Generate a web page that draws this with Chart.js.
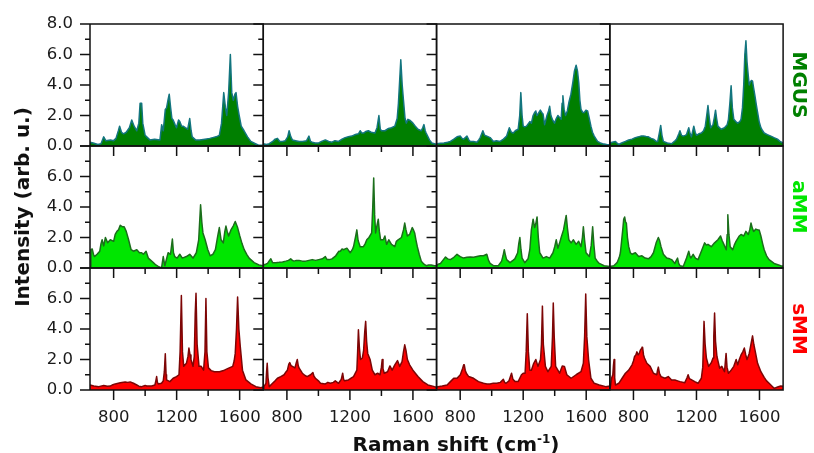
<!DOCTYPE html>
<html>
<head>
<meta charset="utf-8">
<script src="https://cdn.jsdelivr.net/npm/chart.js@4.4.1/dist/chart.umd.min.js"></script>
<style>
  html, body { margin: 0; padding: 0; background: #ffffff; }
  #wrap { width: 814px; height: 453px; }
</style>
</head>
<body>
<div id="wrap"><canvas id="c" width="814" height="453"></canvas></div>
<script>
// ---------------- DATA (Raman shift cm-1, intensity arb. u.) ----------------
const GROUPS = ['MGUS', 'aMM', 'sMM'];
const X_MIN = 650, X_MAX = 1750;
const X_LABEL_TICKS = [800, 1200, 1600];
const X_MINOR_TICKS = [1000, 1400];
const Y_MIN = 0, Y_MAX = 8;
const Y_LABEL_TICKS = [0, 2, 4, 6, 8];
const Y_MINOR_TICKS = [1, 3, 5, 7];

const MGUS_1 = [[650,0.25],[670,0.2],[700,0.1],[720,0.15],[737,0.6],[750,0.35],[780,0.4],[800,0.35],[815,0.5],[830,1.0],[838,1.3],[850,0.9],[863,0.8],[880,0.9],[900,1.2],[915,1.7],[930,1.3],[947,1.0],[960,1.5],[968,2.8],[978,2.8],[985,1.5],[1000,0.7],[1010,0.6],[1030,0.4],[1060,0.45],[1094,0.4],[1105,1.4],[1115,1.0],[1128,2.4],[1136,2.5],[1145,3.0],[1153,3.4],[1162,2.5],[1170,1.8],[1178,1.7],[1190,1.4],[1199,1.2],[1212,1.7],[1220,1.6],[1232,1.3],[1241,1.3],[1255,1.2],[1270,1.1],[1283,1.8],[1292,1.0],[1299,0.6],[1320,0.4],[1346,0.4],[1380,0.45],[1410,0.5],[1429,0.55],[1450,0.6],[1471,0.7],[1485,1.5],[1499,3.5],[1510,2.5],[1518,2.0],[1530,3.5],[1541,6.0],[1550,3.5],[1560,3.0],[1570,3.4],[1577,3.5],[1587,2.6],[1597,2.0],[1610,1.3],[1628,1.0],[1639,0.8],[1650,0.6],[1671,0.3],[1700,0.15],[1720,0.05],[1750,0.05]];
const MGUS_2 = [[650,0.15],[670,0.1],[688,0.15],[710,0.3],[725,0.45],[740,0.5],[755,0.3],[772,0.3],[790,0.35],[805,0.6],[814,1.0],[825,0.6],[835,0.4],[855,0.35],[877,0.3],[900,0.3],[925,0.35],[940,0.65],[950,0.3],[961,0.25],[980,0.2],[1002,0.2],[1020,0.3],[1044,0.4],[1065,0.3],[1086,0.25],[1105,0.35],[1128,0.3],[1150,0.45],[1170,0.55],[1190,0.6],[1212,0.65],[1235,0.75],[1254,0.8],[1265,1.0],[1275,0.85],[1286,0.85],[1300,0.95],[1317,1.0],[1335,0.9],[1359,0.85],[1372,1.2],[1384,2.0],[1393,1.1],[1401,1.0],[1422,1.0],[1445,1.15],[1464,1.2],[1485,1.3],[1500,1.8],[1508,2.8],[1523,5.65],[1532,4.0],[1540,3.0],[1550,1.8],[1558,1.5],[1568,1.75],[1579,1.7],[1590,1.6],[1600,1.5],[1615,1.3],[1632,1.1],[1653,1.0],[1662,1.2],[1670,1.4],[1678,1.0],[1684,0.85],[1705,0.4],[1720,0.2],[1737,0.15],[1750,0.1]];
const MGUS_3 = [[650,0.15],[675,0.18],[697,0.2],[720,0.25],[738,0.3],[760,0.45],[780,0.6],[801,0.65],[812,0.5],[822,0.45],[843,0.65],[855,0.4],[864,0.3],[885,0.3],[906,0.25],[918,0.4],[927,0.55],[944,1.0],[955,0.7],[969,0.65],[990,0.55],[1011,0.3],[1030,0.35],[1053,0.3],[1075,0.45],[1095,0.65],[1112,1.2],[1125,0.9],[1137,0.85],[1150,1.0],[1168,1.1],[1178,2.0],[1185,3.5],[1193,2.0],[1200,1.3],[1210,1.25],[1221,1.3],[1242,1.6],[1252,1.5],[1263,2.0],[1273,2.2],[1280,2.3],[1287,2.0],[1294,2.1],[1309,2.35],[1318,2.2],[1326,2.1],[1336,1.4],[1351,2.0],[1361,2.3],[1368,2.6],[1376,2.0],[1385,1.75],[1399,1.5],[1410,1.8],[1420,2.0],[1441,1.75],[1447,2.8],[1452,3.3],[1460,2.4],[1469,2.0],[1480,2.3],[1490,2.85],[1503,3.4],[1515,4.15],[1525,4.9],[1536,5.3],[1545,4.9],[1553,4.15],[1560,3.0],[1567,2.4],[1578,2.2],[1588,2.2],[1598,2.35],[1609,2.3],[1620,1.8],[1630,1.3],[1640,0.9],[1651,0.65],[1672,0.3],[1690,0.2],[1704,0.15],[1730,0.1],[1750,0.08]];
const MGUS_4 = [[650,0.2],[665,0.25],[686,0.3],[700,0.15],[707,0.1],[725,0.2],[749,0.3],[770,0.4],[791,0.45],[812,0.55],[833,0.6],[850,0.65],[864,0.65],[880,0.62],[895,0.6],[912,0.5],[927,0.45],[945,0.3],[954,0.3],[965,0.9],[973,1.35],[981,0.7],[990,0.3],[1015,0.2],[1042,0.15],[1060,0.3],[1074,0.45],[1088,0.8],[1095,1.0],[1105,0.7],[1116,0.65],[1128,0.7],[1137,0.75],[1151,1.2],[1160,0.8],[1168,0.6],[1183,1.3],[1192,0.9],[1200,0.7],[1215,0.8],[1231,0.85],[1245,1.0],[1256,1.3],[1265,2.0],[1273,2.65],[1282,1.8],[1290,1.2],[1305,1.4],[1314,1.9],[1321,2.35],[1328,1.8],[1336,1.3],[1357,1.1],[1378,1.2],[1395,1.4],[1403,1.75],[1412,2.8],[1420,3.95],[1428,2.5],[1437,1.75],[1450,1.6],[1462,1.5],[1475,1.6],[1483,1.75],[1492,2.5],[1500,4.0],[1507,6.0],[1514,6.9],[1521,5.5],[1529,4.6],[1535,4.0],[1542,4.2],[1549,4.3],[1556,4.25],[1563,3.8],[1571,3.3],[1580,2.7],[1588,2.2],[1598,1.6],[1609,1.2],[1620,1.0],[1630,0.85],[1650,0.75],[1672,0.65],[1692,0.55],[1714,0.45],[1730,0.3],[1750,0.2]];

const AMM_1 = [[650,0.1],[656,1.2],[664,1.25],[672,0.9],[678,0.75],[695,0.9],[712,1.1],[720,1.6],[727,1.85],[737,1.45],[748,2.0],[762,1.65],[779,1.85],[800,1.75],[810,2.2],[821,2.4],[831,2.5],[842,2.8],[857,2.7],[867,2.7],[880,2.4],[895,1.85],[911,1.2],[926,1.1],[947,1.2],[964,1.0],[978,1.0],[989,0.9],[1006,1.1],[1020,0.65],[1036,0.5],[1052,0.35],[1068,0.2],[1083,0.1],[1104,0.0],[1115,0.75],[1125,0.15],[1146,1.0],[1161,0.9],[1173,1.9],[1180,1.0],[1188,0.75],[1203,0.65],[1220,0.9],[1236,0.65],[1262,0.75],[1283,0.9],[1304,0.65],[1325,1.0],[1340,1.85],[1352,4.15],[1360,3.0],[1367,2.3],[1381,1.85],[1398,1.2],[1413,0.8],[1430,0.9],[1446,1.2],[1461,2.1],[1471,2.65],[1482,1.85],[1496,1.65],[1506,2.4],[1513,2.75],[1521,2.4],[1530,2.1],[1545,2.5],[1559,2.75],[1572,3.05],[1587,2.65],[1601,2.1],[1615,1.6],[1629,1.2],[1645,0.9],[1660,0.65],[1692,0.35],[1723,0.2],[1750,0.15]];
const AMM_2 = [[650,0.2],[665,0.25],[677,0.3],[690,0.5],[698,0.6],[709,0.35],[730,0.35],[751,0.37],[772,0.4],[793,0.45],[810,0.5],[824,0.6],[835,0.5],[845,0.45],[860,0.5],[877,0.5],[898,0.45],[919,0.45],[940,0.5],[961,0.55],[982,0.5],[1002,0.55],[1025,0.6],[1044,0.75],[1055,0.55],[1070,0.55],[1086,0.6],[1110,0.8],[1130,1.1],[1139,1.1],[1150,1.25],[1160,1.2],[1170,1.25],[1181,1.3],[1202,1.0],[1215,1.2],[1223,1.4],[1235,2.0],[1244,2.5],[1252,1.8],[1265,1.4],[1286,1.4],[1297,1.6],[1307,1.85],[1321,2.0],[1338,2.3],[1345,4.0],[1351,5.9],[1357,3.5],[1363,2.3],[1372,2.8],[1380,3.2],[1387,2.4],[1395,1.85],[1412,1.85],[1422,2.1],[1433,1.55],[1447,1.85],[1464,1.55],[1485,1.4],[1495,1.75],[1506,1.85],[1527,2.0],[1540,2.5],[1548,2.95],[1556,2.5],[1565,2.1],[1579,2.2],[1596,2.65],[1603,2.5],[1611,2.3],[1620,1.8],[1628,1.4],[1640,0.9],[1653,0.45],[1670,0.25],[1684,0.15],[1700,0.2],[1716,0.2],[1737,0.15],[1750,0.15]];
const AMM_3 = [[650,0.15],[660,0.25],[675,0.3],[690,0.5],[707,0.72],[720,0.6],[738,0.55],[760,0.7],[780,0.9],[800,0.75],[822,0.65],[843,0.7],[864,0.72],[885,0.7],[906,0.75],[928,0.8],[948,0.8],[969,0.9],[980,0.5],[990,0.3],[1011,0.15],[1042,0.15],[1063,0.45],[1072,0.8],[1080,1.2],[1088,0.8],[1095,0.55],[1116,0.35],[1135,0.5],[1147,0.6],[1165,1.0],[1172,1.6],[1179,2.0],[1186,1.2],[1193,0.65],[1210,0.35],[1231,0.6],[1242,1.2],[1252,2.5],[1263,3.2],[1273,2.65],[1280,2.9],[1288,3.35],[1296,2.0],[1305,1.0],[1326,0.65],[1347,0.75],[1368,0.65],[1389,1.0],[1400,1.4],[1410,1.85],[1420,1.3],[1430,1.6],[1441,2.0],[1456,2.5],[1465,3.0],[1473,3.45],[1481,2.6],[1490,1.85],[1504,1.65],[1519,1.85],[1536,1.55],[1552,1.75],[1567,1.4],[1576,2.0],[1582,2.7],[1590,1.8],[1599,1.0],[1620,0.75],[1632,1.5],[1641,2.7],[1649,1.5],[1657,0.65],[1670,0.45],[1683,0.3],[1714,0.15],[1750,0.1]];
const AMM_4 = [[650,0.1],[675,0.15],[696,0.35],[710,0.7],[717,1.0],[725,1.8],[732,2.5],[738,3.2],[744,3.35],[750,3.0],[755,2.95],[762,2.0],[770,1.4],[780,1.0],[791,0.9],[812,1.0],[833,0.75],[854,0.8],[874,0.65],[895,0.6],[912,0.75],[927,1.0],[944,1.65],[958,2.0],[966,1.8],[975,1.4],[990,0.9],[1011,0.65],[1030,0.6],[1042,0.55],[1063,0.3],[1072,0.5],[1080,0.65],[1087,0.3],[1095,0.15],[1116,0.1],[1137,0.65],[1151,1.1],[1158,0.8],[1164,0.65],[1179,0.9],[1193,0.65],[1210,0.55],[1231,1.1],[1252,1.65],[1263,1.5],[1273,1.55],[1294,1.4],[1315,1.65],[1336,1.85],[1353,2.1],[1363,1.8],[1374,1.55],[1389,1.2],[1395,2.2],[1399,3.5],[1406,2.2],[1414,1.4],[1430,1.2],[1440,1.5],[1451,1.75],[1472,2.1],[1483,2.2],[1500,2.1],[1514,2.4],[1529,2.2],[1538,2.5],[1546,2.95],[1555,2.6],[1563,2.4],[1577,2.55],[1590,2.5],[1598,2.5],[1609,2.1],[1620,1.6],[1630,1.2],[1645,0.8],[1661,0.55],[1693,0.3],[1735,0.15],[1750,0.12]];

const SMM_1 = [[650,0.33],[674,0.26],[706,0.22],[737,0.3],[760,0.25],[779,0.26],[795,0.35],[810,0.4],[842,0.48],[873,0.53],[890,0.5],[905,0.53],[926,0.44],[947,0.33],[960,0.25],[978,0.22],[1000,0.3],[1010,0.26],[1041,0.26],[1062,0.33],[1068,0.6],[1073,0.88],[1078,0.5],[1083,0.4],[1104,0.44],[1115,0.6],[1122,1.2],[1128,2.37],[1133,1.0],[1136,0.66],[1157,0.55],[1178,0.77],[1199,0.88],[1215,1.0],[1222,2.5],[1230,6.2],[1237,2.5],[1245,1.55],[1262,1.75],[1272,2.2],[1278,2.75],[1285,2.3],[1291,2.0],[1304,1.55],[1312,2.2],[1318,5.0],[1323,6.35],[1330,3.0],[1342,1.55],[1356,1.55],[1371,1.3],[1380,2.5],[1386,6.0],[1392,2.5],[1402,1.45],[1419,1.27],[1440,1.2],[1472,1.2],[1503,1.3],[1534,1.45],[1556,1.55],[1565,1.9],[1572,2.4],[1580,4.0],[1587,6.1],[1595,4.0],[1604,2.85],[1618,1.3],[1640,0.66],[1671,0.4],[1703,0.22],[1734,0.15],[1750,0.2]];
const SMM_2 = [[650,0.1],[654,0.22],[667,0.44],[671,1.2],[675,1.75],[680,0.8],[688,0.22],[709,0.44],[725,0.6],[740,0.77],[761,0.88],[782,1.0],[795,1.2],[803,1.3],[812,1.7],[818,1.8],[826,1.6],[835,1.55],[851,1.45],[860,1.8],[866,2.0],[872,1.6],[877,1.45],[898,1.1],[915,0.95],[929,0.88],[950,1.0],[965,1.15],[972,0.9],[981,0.77],[1000,0.6],[1013,0.44],[1044,0.4],[1060,0.5],[1076,0.44],[1095,0.5],[1107,0.6],[1128,0.44],[1145,0.7],[1154,1.1],[1160,0.7],[1166,0.6],[1191,0.66],[1210,0.8],[1223,0.88],[1244,1.3],[1249,2.5],[1254,3.95],[1260,2.8],[1267,2.0],[1279,2.1],[1287,2.6],[1294,3.8],[1300,4.5],[1306,3.2],[1313,2.4],[1328,2.0],[1342,1.3],[1359,1.0],[1376,1.1],[1391,1.0],[1400,1.5],[1405,2.0],[1410,1.4],[1418,1.1],[1439,1.2],[1454,1.58],[1468,1.3],[1485,1.65],[1502,1.93],[1516,1.55],[1531,1.86],[1540,2.5],[1548,2.96],[1556,2.6],[1565,2.0],[1579,1.65],[1600,1.3],[1632,0.88],[1663,0.55],[1695,0.33],[1737,0.22],[1750,0.2]];
const SMM_3 = [[650,0.2],[686,0.26],[717,0.33],[738,0.55],[759,0.77],[780,0.77],[801,1.0],[816,1.43],[822,1.65],[826,1.65],[832,1.3],[839,1.1],[854,0.88],[885,0.77],[916,0.55],[948,0.44],[970,0.4],[990,0.4],[1010,0.45],[1032,0.44],[1055,0.5],[1074,0.7],[1082,0.5],[1091,0.44],[1110,0.6],[1126,1.1],[1135,0.7],[1149,0.55],[1168,0.55],[1189,1.0],[1200,1.1],[1212,1.1],[1219,2.5],[1226,5.0],[1233,2.5],[1242,1.3],[1252,1.3],[1267,1.75],[1280,2.0],[1294,1.55],[1310,2.0],[1316,3.0],[1322,5.5],[1328,3.0],[1341,1.55],[1357,1.2],[1378,1.55],[1386,3.5],[1391,5.7],[1397,3.5],[1406,1.55],[1431,1.1],[1448,1.58],[1462,1.55],[1477,1.0],[1504,0.77],[1536,1.0],[1567,1.2],[1582,1.75],[1590,3.5],[1597,6.3],[1604,3.5],[1615,2.0],[1630,0.77],[1651,0.44],[1683,0.33],[1724,0.22],[1750,0.26]];
const SMM_4 = [[650,0.1],[654,0.22],[662,0.8],[669,1.0],[673,1.6],[677,2.0],[681,0.8],[686,0.33],[707,0.44],[728,0.77],[749,1.1],[770,1.3],[791,1.65],[800,1.9],[807,2.2],[815,2.3],[822,2.5],[830,2.3],[837,2.4],[843,2.6],[849,2.7],[854,2.8],[858,2.8],[864,2.3],[870,2.1],[885,1.75],[906,1.55],[927,1.1],[948,1.0],[953,1.3],[958,1.5],[965,1.1],[975,0.88],[1000,0.77],[1021,0.88],[1042,0.66],[1063,0.66],[1080,0.6],[1095,0.55],[1126,0.48],[1140,0.8],[1147,1.0],[1155,0.75],[1164,0.7],[1189,0.55],[1210,0.44],[1231,0.77],[1240,1.5],[1248,4.5],[1255,3.0],[1263,2.1],[1277,1.55],[1295,1.8],[1305,2.1],[1310,3.5],[1315,5.05],[1321,3.2],[1330,2.2],[1347,1.43],[1361,1.55],[1378,1.2],[1383,1.8],[1388,2.4],[1394,1.5],[1403,1.1],[1420,1.3],[1437,1.55],[1452,2.0],[1462,1.65],[1472,2.0],[1483,2.3],[1494,2.5],[1504,2.75],[1513,2.3],[1521,2.0],[1535,2.4],[1546,3.0],[1556,3.55],[1564,3.0],[1571,2.65],[1588,1.75],[1609,1.2],[1630,0.83],[1645,0.6],[1661,0.44],[1680,0.25],[1693,0.11],[1715,0.2],[1735,0.26],[1750,0.25]];

const SPECTRA = [
  [MGUS_1, MGUS_2, MGUS_3, MGUS_4],
  [AMM_1, AMM_2, AMM_3, AMM_4],
  [SMM_1, SMM_2, SMM_3, SMM_4]
];

// ---------------- STYLE ----------------
const STYLE = [
  { fill: '#007f00', line: '#13757f', label: '#008000' },
  { fill: '#00e600', line: '#1b6e1b', label: '#00e600' },
  { fill: '#ff0000', line: '#7d0505', label: '#ff0000' }
];
const FONT = '"DejaVu Sans", "Liberation Sans", Arial, sans-serif';
const ROWS = SPECTRA.length, COLS = SPECTRA[0].length;

// ---------------- DATASETS ----------------
const datasets = [];
for (let r = 0; r < ROWS; r++) {
  for (let c = 0; c < COLS; c++) {
    datasets.push({
      label: GROUPS[r] + ' ' + (c + 1),
      data: SPECTRA[r][c].map(p => ({ x: p[0], y: p[1] })),
      xAxisID: 'x' + c,
      yAxisID: 'y' + r,
      borderColor: STYLE[r].line,
      backgroundColor: STYLE[r].fill,
      borderWidth: 1.5,
      borderJoinStyle: 'round',
      fill: 'origin',
      pointRadius: 0,
      tension: 0
    });
  }
}

// ---------------- SCALES ----------------
const scales = {};
for (let c = 0; c < COLS; c++) {
  scales['x' + c] = {
    type: 'linear', position: 'bottom', stack: 'xs', stackWeight: 1,
    min: X_MIN, max: X_MAX,
    grid: { display: false, drawTicks: true, tickLength: 10 },
    border: { display: false },
    ticks: {
      stepSize: 200, includeBounds: false, autoSkip: false, maxRotation: 0, minRotation: 0,
      padding: 8, color: '#1a1a1a', font: { family: FONT, size: 16.5 },
      callback: v => X_LABEL_TICKS.includes(v) ? String(v) : ''
    },
    afterFit: s => { s.width = s.width; s.height = 63; }
  };
}
// left stack is laid out in reverse order by Chart.js, so the rows are declared bottom-up
for (let r = ROWS - 1; r >= 0; r--) {
  scales['y' + r] = {
    type: 'linear', position: 'left', stack: 'ys', stackWeight: 1,
    min: Y_MIN, max: Y_MAX,
    grid: { display: false, drawTicks: true, tickLength: 10 },
    border: { display: false },
    ticks: {
      stepSize: 2, autoSkip: false, padding: 7, color: '#1a1a1a',
      font: { family: FONT, size: 16.5 },
      callback: v => (r > 0 && v === Y_MAX) ? '' : (Y_LABEL_TICKS.includes(v) ? v.toFixed(1) : '')
    },
    title: {
      display: r === 1, text: 'Intensity (arb. u.)', color: '#111111',
      font: { family: FONT, size: 20, weight: 'bold' }, padding: { top: 12, bottom: 0 }
    },
    afterFit: s => { s.width = 90; }
  };
}
for (let r = 0; r < ROWS; r++) {
  scales['g' + r] = {
    type: 'linear', position: 'right', stack: 'gs', stackWeight: 1,
    grid: { display: false }, border: { display: false },
    ticks: { display: false },
    title: {
      display: true, text: GROUPS[r], color: STYLE[r].label,
      font: { family: FONT, size: 20, weight: 'bold', lineHeight: 1 }, padding: { top: 0, bottom: 0 }
    },
    afterFit: s => { s.width = 25; }
  };
}

// ---------------- FRAME / TICKS / X TITLE ----------------
const framePlugin = {
  id: 'panelFrame',
  afterDatasetsDraw(chart) {
    const ctx = chart.ctx;
    ctx.save();
    ctx.strokeStyle = '#111111';
    ctx.lineWidth = 1.5;
    for (let r = 0; r < ROWS; r++) {
      for (let c = 0; c < COLS; c++) {
        const xs = chart.scales['x' + c], ys = chart.scales['y' + r];
        ctx.beginPath();
        ctx.rect(xs.left, ys.top, xs.right - xs.left, ys.bottom - ys.top);
        X_LABEL_TICKS.concat(X_MINOR_TICKS).forEach(v => {
          const px = xs.getPixelForValue(v);
          const len = X_LABEL_TICKS.includes(v) ? 10 : 6;
          ctx.moveTo(px, ys.bottom); ctx.lineTo(px, ys.bottom + len);
        });
        Y_LABEL_TICKS.concat(Y_MINOR_TICKS).forEach(v => {
          const py = ys.getPixelForValue(v);
          const len = Y_LABEL_TICKS.includes(v) ? 10 : 5;
          ctx.moveTo(xs.left, py); ctx.lineTo(xs.left - len, py);
        });
        ctx.stroke();
      }
    }
    // x-axis title with superscript
    const main = 'Raman shift (cm', sup = '-1', close = ')';
    const bigFont = 'bold 20px ' + FONT, smallFont = 'bold 12px ' + FONT;
    ctx.font = bigFont; const w1 = ctx.measureText(main).width; const w3 = ctx.measureText(close).width;
    ctx.font = smallFont; const w2 = ctx.measureText(sup).width;
    const total = w1 + w2 + w3;
    const cx = 456, base = 451;
    let x = cx - total / 2;
    ctx.fillStyle = '#111111';
    ctx.textBaseline = 'alphabetic'; ctx.textAlign = 'left';
    ctx.font = bigFont; ctx.fillText(main, x, base); x += w1;
    ctx.font = smallFont; ctx.fillText(sup, x, base - 8); x += w2;
    ctx.font = bigFont; ctx.fillText(close, x, base);
    ctx.restore();
  }
};

new Chart(document.getElementById('c'), {
  type: 'line',
  data: { datasets },
  options: {
    responsive: false,
    animation: false,
    devicePixelRatio: 1,
    layout: { padding: { left: 0, right: 0, top: 24, bottom: 0 } },
    plugins: { legend: { display: false }, tooltip: { enabled: false }, title: { display: false } },
    scales
  },
  plugins: [framePlugin]
});
</script>
</body>
</html>
